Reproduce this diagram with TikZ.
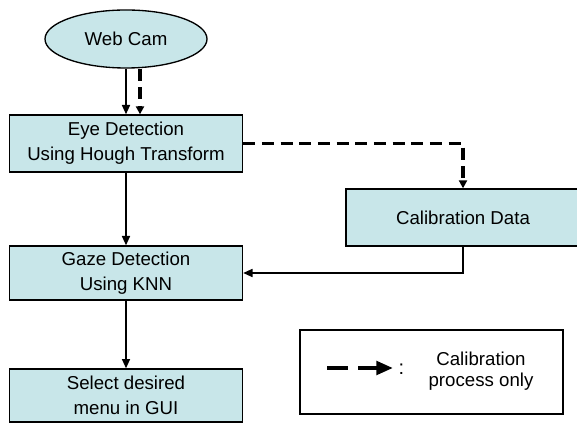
\documentclass[tikz,border=0pt]{standalone}
\usepackage{fontspec}
\setmainfont{Liberation Sans}
\usetikzlibrary{shapes.geometric,arrows.meta}

\tikzset{every picture/.style={line width=0.75pt}}
\definecolor{boxfill}{RGB}{200,230,233}

\begin{document}
\begin{tikzpicture}[x=0.75pt,y=0.75pt,yscale=-1,
	blk/.style={draw,line width=1pt,fill=boxfill,inner sep=0pt,align=center,font=\fontsize{14}{18.75}\selectfont,minimum width=174.75pt},
	flow/.style={line width=1.2pt,-{Triangle[length=7pt,width=6pt]}},
	calflow/.style={line width=2.5pt,dash pattern=on 9pt off 5pt,-{Triangle[length=6pt,width=6pt]}},
	keyflow/.style={line width=3pt,dash pattern=on 16pt off 7.5pt,-{Triangle[length=12.5pt,width=10pt]}}]
		%set diagram size to 577 x 423
		\path[use as bounding box] (0,0) rectangle (577,423);

		\node [blk,ellipse,minimum width=121.5pt,minimum height=43.5pt] (cam) at (126,39) {Web Cam};
		\node [blk,minimum height=42.75pt] (eye) at (126,143.5) {Eye Detection\\Using Hough Transform};
		\node [blk,minimum height=40.5pt] (gaze) at (126,273) {Gaze Detection\\Using KNN};
		\node [blk,minimum height=39.75pt] (sel) at (126,395.5) {Select desired\\menu in GUI};
		\node [blk,minimum width=175.5pt,minimum height=42.75pt] (calib) at (463,217.5) {Calibration Data};

		\draw [flow] (cam.south) -- (eye.north);
		\draw [calflow] ([xshift=10.5pt]cam.south) -- ([xshift=10.5pt]eye.north);
		\draw [flow] (eye.south) -- (gaze.north);
		\draw [flow] (gaze.south) -- (sel.north);
		\draw [calflow] (eye.east) -| (calib.north);
		\draw [flow] (calib.south) |- (gaze.east);

		% legend
		\node [draw,line width=1pt,inner sep=0pt,minimum width=197.25pt,minimum height=63pt] (legend) at (431.5,372) {};
		\coordinate (keyA) at (327,368);
		\coordinate (keyB) at (393,368);
		\draw [keyflow] (keyA) -- (keyB);
		\node [font=\fontsize{15}{16}\selectfont] (colon) at (401.5,369) {:};
		\node [align=center,inner sep=0pt,font=\fontsize{14}{16}\selectfont] (keytext) at (481,371) {Calibration\\process only};
\end{tikzpicture}
\end{document}
